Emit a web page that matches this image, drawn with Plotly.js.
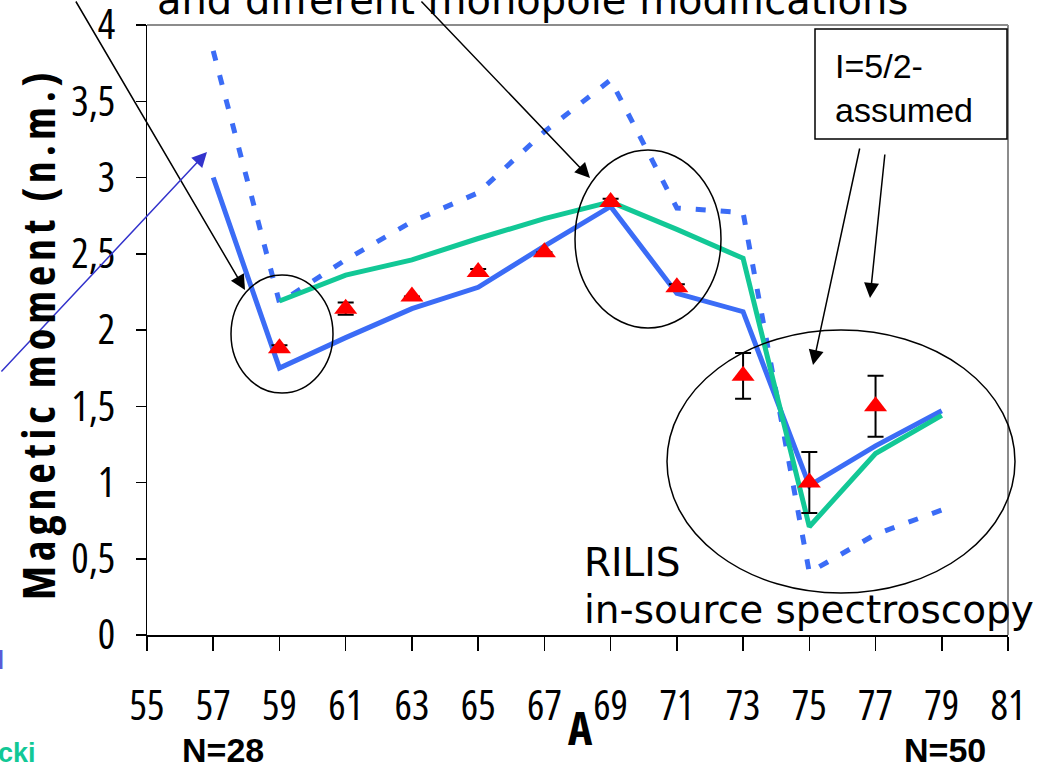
<!DOCTYPE html>
<html>
<head>
<meta charset="utf-8">
<script src="https://cdn.plot.ly/plotly-3.0.1.min.js"></script>
<style>
  html, body { margin: 0; padding: 0; background: #fff; }
  #chart { width: 1050px; height: 766px; }
  .xtick text, .ytick text { font-stretch: 75%; }
  text[data-unformatted^="Magnetic"] { letter-spacing: 5px; font-stretch: 75%; }
  text[data-unformatted="A"] { font-stretch: 75%; }
</style>
</head>
<body>
<div id="chart"></div>
<script>
// ---- data ----
const massTheoryBlue = [57, 59, 61, 63, 65, 67, 69, 71, 73, 75, 77, 79];
const muTheoryBlue   = [3.00, 1.75, 1.95, 2.14, 2.28, 2.55, 2.81, 2.24, 2.12, 0.98, 1.24, 1.47];

const massTheoryGreen = [59, 61, 63, 65, 67, 69, 71, 73, 75, 77, 79];
const muTheoryGreen   = [2.19, 2.36, 2.46, 2.60, 2.73, 2.84, 2.66, 2.47, 0.71, 1.19, 1.44];

const massTheoryDash = [57, 59, 61, 63, 65, 67, 69, 71, 73, 75, 77, 79];
const muTheoryDash   = [3.83, 2.18, 2.46, 2.71, 2.90, 3.30, 3.64, 2.80, 2.77, 0.41, 0.66, 0.82];

const massExp = [59, 61, 63, 65, 67, 69, 71, 73, 75, 77];
const muExp   = [1.88, 2.14, 2.22, 2.38, 2.51, 2.84, 2.28, 1.70, 1.00, 1.50];
const muErr   = [0.02, 0.04, 0.00, 0.02, 0.00, 0.02, 0.02, 0.15, 0.20, 0.20];

const xTickVals = [55, 57, 59, 61, 63, 65, 67, 69, 71, 73, 75, 77, 79, 81];
const yTickVals = [0, 0.5, 1, 1.5, 2, 2.5, 3, 3.5, 4];
const yTickText = ['0', '0,5', '1', '1,5', '2', '2,5', '3', '3,5', '4'];

// ---- geometry helpers (pixel -> paper) for decorations ----
const L = 147, R = 42, T = 25, B = 131, W = 1050, H = 766;
const PW = W - L - R, PH = H - T - B;
const px = p => (p - L) / PW;
const py = p => (H - B - p) / PH;

const COND = '"Open Sans", "Liberation Sans", sans-serif';
const SANS = '"Liberation Sans", Arial, sans-serif';
const HAND = '"DejaVu Sans", sans-serif';
const BLUE = '#3b6cf6';
const GREEN = '#12c896';

const traces = [
  {
    x: massTheoryDash, y: muTheoryDash, type: 'scatter', mode: 'lines',
    line: { color: BLUE, width: 5, dash: '10px,15px' }, hoverinfo: 'skip'
  },
  {
    x: massTheoryBlue, y: muTheoryBlue, type: 'scatter', mode: 'lines',
    line: { color: BLUE, width: 5 }, hoverinfo: 'skip'
  },
  {
    x: massTheoryGreen, y: muTheoryGreen, type: 'scatter', mode: 'lines',
    line: { color: GREEN, width: 5 }, hoverinfo: 'skip'
  },
  {
    x: massExp, y: muExp, type: 'scatter', mode: 'markers',
    marker: { symbol: 'triangle-up', size: 20, color: '#ff0000' },
    error_y: { type: 'data', array: muErr, visible: true, color: '#000', thickness: 2, width: 8 },
    hoverinfo: 'skip'
  }
];

function ell(x0, y0, x1, y1) {
  return { type: 'circle', xref: 'paper', yref: 'paper',
    x0: px(x0), x1: px(x1), y0: py(y1), y1: py(y0),
    line: { color: '#000', width: 1.5 } };
}

const shapes = [
  { type: 'line', xref: 'paper', yref: 'paper', x0: 0, x1: 1, y0: 1, y1: 1, line: { color: '#8c8c8c', width: 2 } },
  { type: 'line', xref: 'paper', yref: 'paper', x0: 1, x1: 1, y0: 0, y1: 1, line: { color: '#8c8c8c', width: 2 } },
  ell(231, 275, 333, 393),
  ell(575, 150, 721, 328),
  ell(667, 330, 1015, 593),
  { type: 'rect', xref: 'paper', yref: 'paper', x0: px(815), x1: px(1007), y0: py(139), y1: py(29),
    line: { color: '#000', width: 1.5 }, fillcolor: '#fff' }
];

function arrow(tipX, tipY, tailX, tailY, color, width) {
  return { xref: 'paper', yref: 'paper', x: px(tipX), y: py(tipY),
    ax: tailX - tipX, ay: tailY - tipY, text: '', showarrow: true,
    arrowhead: 2, arrowsize: 2, arrowwidth: width || 1.5, arrowcolor: color || '#000', standoff: 0 };
}

const annotations = [
  arrow(245, 290, 75, 0),
  arrow(590, 178, 420, 0),
  arrow(207, 152, 0, 373, '#3333cc', 1.5),
  arrow(813, 365, 860, 147),
  arrow(870, 298, 885, 153),
  { xref: 'paper', yref: 'paper', x: px(155), y: py(0), xanchor: 'left', yanchor: 'middle',
    text: 'and different monopole modifications', showarrow: false,
    font: { family: HAND, size: 40, color: '#000' } },
  { xref: 'paper', yref: 'paper', x: px(833), y: py(88), xanchor: 'left', yanchor: 'middle', align: 'left',
    text: 'I=5/2-<br>assumed', showarrow: false,
    font: { family: SANS, size: 34, color: '#000' } },
  { xref: 'paper', yref: 'paper', x: px(582), y: py(562), xanchor: 'left', yanchor: 'middle',
    text: 'RILIS', showarrow: false, font: { family: HAND, size: 39, color: '#000' } },
  { xref: 'paper', yref: 'paper', x: px(582), y: py(609), xanchor: 'left', yanchor: 'middle',
    text: 'in-source spectroscopy', showarrow: false, font: { family: HAND, size: 39, color: '#000' } },
  { xref: 'paper', yref: 'paper', x: px(38), y: py(334), xanchor: 'center', yanchor: 'middle',
    textangle: -90, text: 'Magnetic moment (n.m.)', showarrow: false,
    font: { family: COND, size: 44, color: '#000', weight: 'bold' } },
  { xref: 'paper', yref: 'paper', x: px(580), y: py(727), xanchor: 'center', yanchor: 'middle',
    text: 'A', showarrow: false, font: { family: COND, size: 46, color: '#000', weight: 'bold' } },
  { xref: 'paper', yref: 'paper', x: px(223), y: py(750), xanchor: 'center', yanchor: 'middle',
    text: '<b>N=28</b>', showarrow: false, font: { family: SANS, size: 34, color: '#000' } },
  { xref: 'paper', yref: 'paper', x: px(945), y: py(750), xanchor: 'center', yanchor: 'middle',
    text: '<b>N=50</b>', showarrow: false, font: { family: SANS, size: 34, color: '#000' } },
  { xref: 'paper', yref: 'paper', x: px(38), y: py(753), xanchor: 'right', yanchor: 'middle',
    text: '<b>cki</b>', showarrow: false, font: { family: SANS, size: 27, color: GREEN } },
  { xref: 'paper', yref: 'paper', x: px(6), y: py(660), xanchor: 'right', yanchor: 'middle',
    text: '<b>l</b>', showarrow: false, font: { family: SANS, size: 26, color: '#5a5ad8' } }
];

const layout = {
  width: W, height: H,
  margin: { l: L, r: R, t: T, b: B, pad: 0 },
  paper_bgcolor: '#fff', plot_bgcolor: '#fff',
  showlegend: false,
  separators: ', ',
  xaxis: {
    range: [55, 81], tickmode: 'array', tickvals: xTickVals,
    ticks: 'outside', ticklen: 14, tickwidth: 1.5, tickcolor: '#000',
    showline: true, linecolor: '#000', linewidth: 1.5,
    showgrid: false, zeroline: false,
    tickfont: { family: COND, size: 41, color: '#000' },
    ticklabelstandoff: 20, ticklabeloverflow: 'allow'
  },
  yaxis: {
    range: [0, 4], tickmode: 'array', tickvals: yTickVals, ticktext: yTickText,
    ticks: 'outside', ticklen: 10, tickwidth: 1.5, tickcolor: '#000',
    showline: true, linecolor: '#000', linewidth: 1.5,
    showgrid: false, zeroline: false,
    tickfont: { family: COND, size: 41, color: '#000' },
    ticklabelstandoff: 12, ticklabeloverflow: 'allow'
  },
  shapes: shapes,
  annotations: annotations
};

Plotly.newPlot('chart', traces, layout, { displayModeBar: false, staticPlot: true });
</script>
</body>
</html>
